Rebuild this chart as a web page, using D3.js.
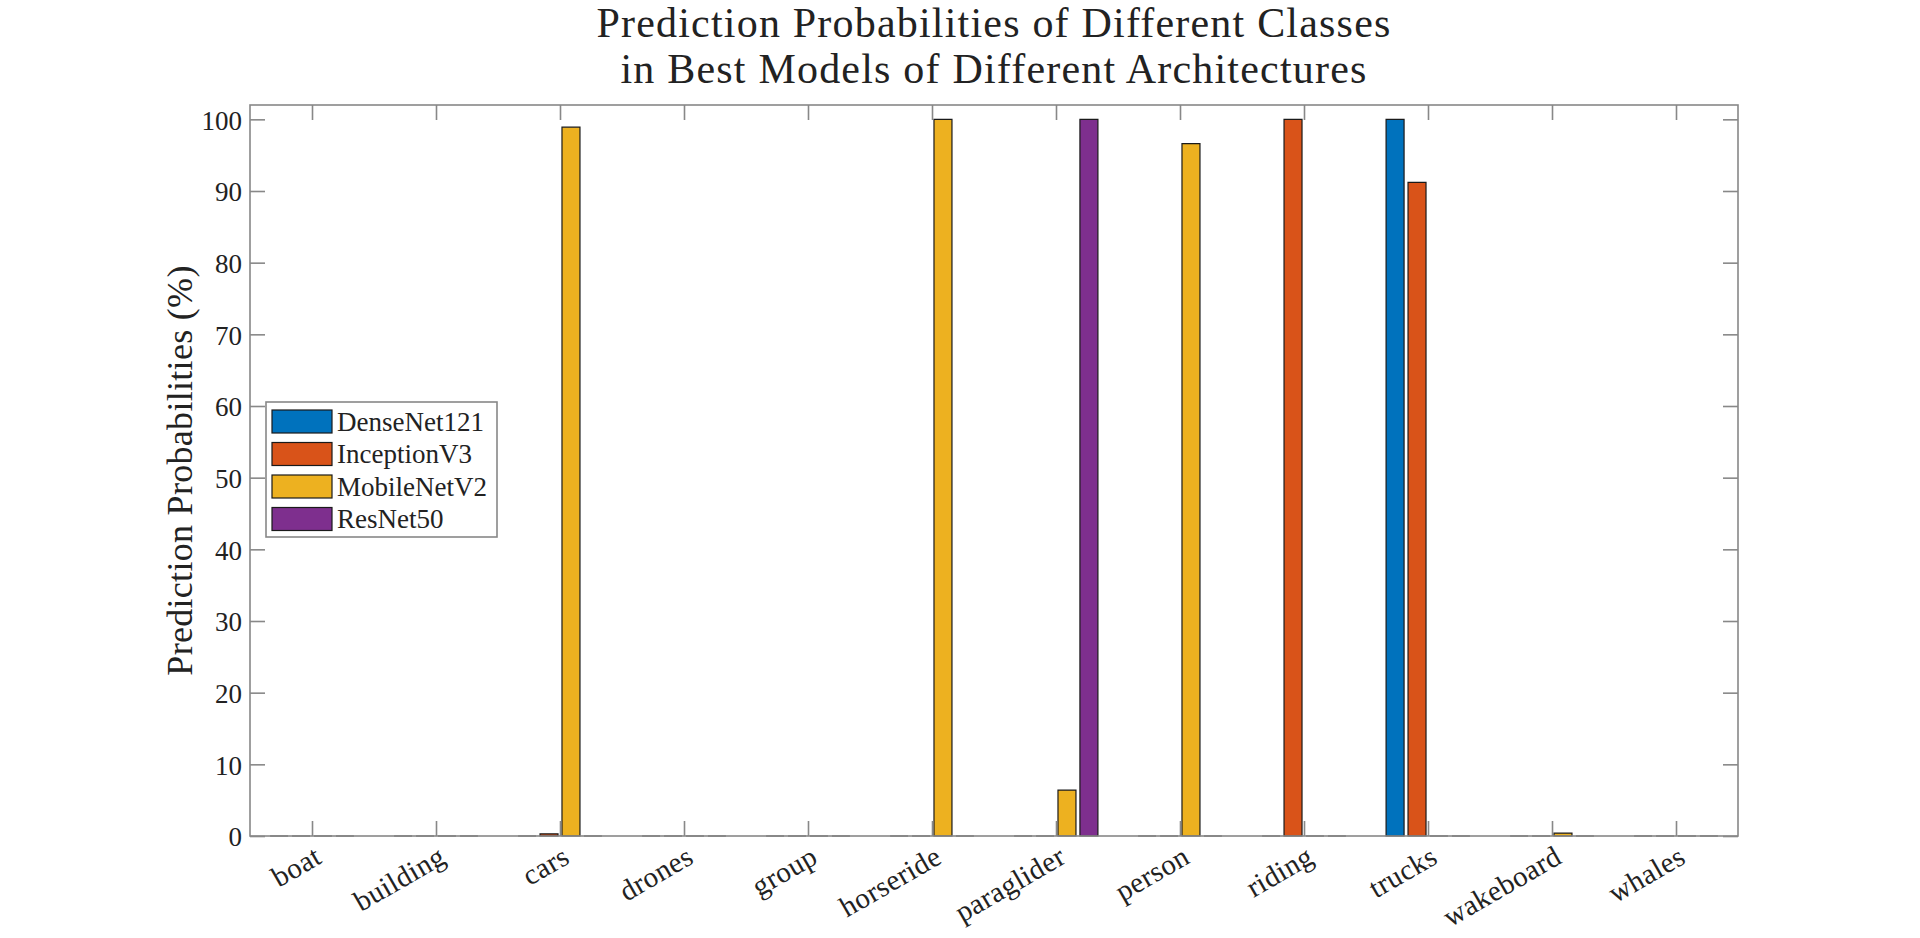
<!DOCTYPE html>
<html>
<head>
<meta charset="utf-8">
<script src="https://cdn.jsdelivr.net/npm/d3@7"></script>
<style>
  html, body { margin: 0; padding: 0; background: #fff; }
  svg text { font-family: "Liberation Serif", "Times New Roman", serif; fill: #222; }
</style>
</head>
<body>
<div id="wrapper"></div>
<script>
// classes on the x axis
const classes = ["boat","building","cars","drones","group","horseride","paraglider","person","riding","trucks","wakeboard","whales"];
const models = ["DenseNet121","InceptionV3","MobileNetV2","ResNet50"];
const colors = ["#0072BD","#D95319","#EDB120","#7E2F8E"];

// probabilities (%) per model, one value per class
const denseNet121 = [0, 0, 0, 0, 0, 0, 0, 0, 0, 100, 0, 0];
const inceptionV3 = [0, 0, 0.3, 0, 0, 0, 0, 0, 100, 91.2, 0, 0];
const mobileNetV2 = [0, 0, 98.9, 0, 0, 100, 6.4, 96.6, 0, 0, 0.4, 0];
const resNet50    = [0, 0, 0, 0, 0, 0, 100, 0, 0, 0, 0, 0];
const yTicks = [0,10,20,30,40,50,60,70,80,90,100];

const series = [denseNet121, inceptionV3, mobileNetV2, resNet50];

const W = 1920, H = 938;
const m = {left: 250, right: 1738, top: 105, bottom: 836};

var svg = d3.select("#wrapper").append("svg").attr("width", W).attr("height", H);

var x = d3.scaleLinear().domain([0.5, classes.length + 0.5]).range([m.left, m.right]);
var y = d3.scaleLinear().domain([0, 102]).range([m.bottom, m.top]);

// group layout like matlab grouped bars
const step = 0.177, bw = 0.145;

var bars = svg.append("g");
series.forEach(function(vals, si) {
  bars.selectAll(".b" + si)
    .data(vals)
    .enter().append("path")
    .attr("class", "b" + si)
    .attr("d", function(d, i) {
      let cx = i + 1 + (si - 1.5) * step;
      let x0 = x(cx - bw / 2), x1 = x(cx + bw / 2);
      let p = d3.path();
      p.rect(x0, y(d), x1 - x0, y(0) - y(d));
      return p.toString();
    })
    .style("fill", colors[si])
    .style("stroke", "#1a1a1a")
    .style("stroke-width", 1.2);
});

// axes box
const axCol = "#888";
svg.append("rect").attr("x", m.left).attr("y", m.top)
  .attr("width", m.right - m.left).attr("height", m.bottom - m.top)
  .style("fill", "none").style("stroke", axCol).style("stroke-width", 1.6);

var xAxisCall = d3.axisBottom(x).tickValues(d3.range(1, classes.length + 1)).tickSize(-15).tickFormat("");
var xTop = d3.axisTop(x).tickValues(d3.range(1, classes.length + 1)).tickSize(-15).tickFormat("");
var yAxisCall = d3.axisLeft(y).tickValues(yTicks).tickSize(-15).tickPadding(8);
var yRight = d3.axisRight(y).tickValues(yTicks).tickSize(-15).tickFormat("");

function styleAxis(g) {
  g.select(".domain").remove();
  g.selectAll("line").style("stroke", axCol).style("stroke-width", 1.6);
}
svg.append("g").attr("transform", "translate(0," + m.bottom + ")").call(xAxisCall).call(styleAxis);
svg.append("g").attr("transform", "translate(0," + m.top + ")").call(xTop).call(styleAxis);
svg.append("g").attr("transform", "translate(" + m.right + ",0)").call(yRight).call(styleAxis);
svg.append("g").attr("transform", "translate(" + m.left + ",0)").call(yAxisCall).call(styleAxis)
  .selectAll("text").style("font-size", "27px").style("font-family", "Liberation Serif").style("fill", "#222")
  .attr("dy", "0.36em");

// rotated class labels
svg.append("g").selectAll(".xl")
  .data(classes)
  .enter().append("text")
  .attr("class", "xl")
  .attr("transform", (d, i) => "translate(" + (x(i + 1) + 1) + "," + (m.bottom + 8) + ") rotate(-30)")
  .attr("text-anchor", "end")
  .attr("dy", "0.72em")
  .style("font-size", "29px")
  .style("letter-spacing", "0.4px")
  .text(d => d);

// y label
svg.append("text")
  .attr("transform", "translate(" + 192 + "," + ((m.top + m.bottom) / 2) + ") rotate(-90)")
  .attr("text-anchor", "middle")
  .style("font-size", "36px")
  .style("letter-spacing", "0.3px")
  .text("Prediction Probabilities (%)");

// title
const titleLines = ["Prediction Probabilities of Different Classes", "in Best Models of Different Architectures"];
svg.append("g").selectAll(".tt")
  .data(titleLines)
  .enter().append("text")
  .attr("x", (m.left + m.right) / 2)
  .attr("y", (d, i) => 37 + i * 46)
  .attr("text-anchor", "middle")
  .style("font-size", "42px")
  .style("letter-spacing", "1.2px")
  .text(d => d);

// legend
var leg = svg.append("g");
leg.append("rect").attr("x", 266).attr("y", 402).attr("width", 231).attr("height", 135)
  .style("fill", "#fff").style("stroke", axCol).style("stroke-width", 1.6);
models.forEach(function(name, i) {
  let cy = 421.5 + i * 32.5;
  leg.append("rect").attr("x", 272).attr("y", cy - 11.5).attr("width", 60).attr("height", 23)
    .style("fill", colors[i]).style("stroke", "#1a1a1a").style("stroke-width", 1.2);
  leg.append("text").attr("x", 337).attr("y", cy).attr("dy", "0.35em")
    .style("font-size", "27px").text(name);
});
</script>
</body>
</html>
